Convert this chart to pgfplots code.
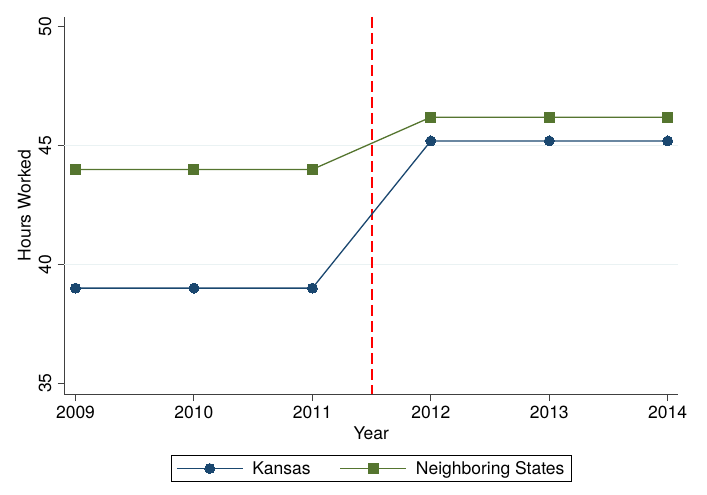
\documentclass[border=0pt]{standalone}
\usepackage{pgfplots}
\pgfplotsset{compat=1.18}
\usepackage{fontspec}
\setmainfont{TeX Gyre Heros}
\definecolor{kansas}{HTML}{1A476F}
\definecolor{neigh}{HTML}{55752F}
\definecolor{gridc}{HTML}{EAF2F3}
\definecolor{axc}{HTML}{404040}
\definecolor{vline}{HTML}{FF0000}
\begin{document}
\begin{tikzpicture}
\begin{axis}[
  name=ax,
  scale only axis,
  width=613.5pt, height=377pt,
  xmin=2008.907, xmax=2014.087,
  ymin=34.54, ymax=50.42,
  axis lines*=left,
  axis line style={axc, line width=1pt},
  xtick={2009,2010,2011,2012,2013,2014},
  ytick={35,40,45,50},
  extra y ticks={40,45},
  extra y tick style={ymajorgrids=true, major tick length=0pt, yticklabels={}},
  major grid style={gridc, line width=1pt},
  tick align=outside,
  major tick length=7pt,
  tick style={axc, line width=1pt},
  /pgf/number format/1000 sep={},
  /pgf/number format/assume math mode=true,
  ticklabel style={font=\fontsize{17.5}{19}\selectfont},
  yticklabel style={rotate=90, anchor=south, inner xsep=0pt, inner ysep=6pt},
  xticklabel style={anchor=north, inner xsep=0pt, inner ysep=5pt},
  xlabel={Year},
  ylabel={Hours Worked},
  label style={font=\fontsize{17.5}{19}\selectfont},
  xlabel style={at={(0.5,-0.0875)}, anchor=north, inner sep=0pt},
  ylabel style={at={(-0.0546,0.5)}, anchor=south, inner sep=0pt},
  legend columns=2,
  legend style={at={(0.5,-0.1976)}, anchor=center, draw=black, line width=0.8pt,
    font=\fontsize{17.5}{19}\selectfont, inner xsep=5pt, inner ysep=4pt,
    /tikz/every odd column/.append style={column sep=7pt},
    /tikz/every even column/.append style={column sep=27pt}},
  legend image code/.code={\draw[mark repeat=2,mark phase=2] plot coordinates {(0pt,0pt)(33pt,0pt)(66pt,0pt)};},
  clip=false,
]
\addplot[forget plot, vline, line width=1.8pt, mark=none, dash pattern=on 11pt off 5pt] coordinates {(2011.5,50.42) (2011.5,34.54)};
\addplot[kansas, line width=1.3pt, mark=*, mark size=5pt, mark options={fill=kansas, draw=kansas, line width=0pt}]
  coordinates {(2009,39) (2010,39) (2011,39) (2012,45.2) (2013,45.2) (2014,45.2)};
\addlegendentry{Kansas}
\addplot[neigh, line width=1.3pt, mark=square*, mark size=5pt, mark options={fill=neigh, draw=neigh, line width=0pt}]
  coordinates {(2009,44) (2010,44) (2011,44) (2012,46.2) (2013,46.2) (2014,46.2)};
\addlegendentry{Neighboring States\hspace{10pt}}
\end{axis}
\path[use as bounding box] ([shift={(-64.5pt,-101pt)}]ax.south west) rectangle ([shift={(642.5pt,394pt)}]ax.south west);
\end{tikzpicture}
\end{document}
